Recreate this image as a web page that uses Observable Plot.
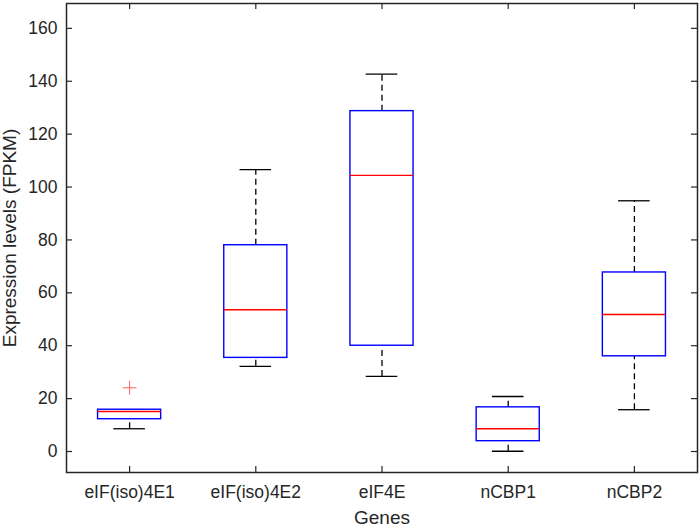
<!DOCTYPE html>
<html>
<head>
<meta charset="utf-8">
<script src="https://cdn.jsdelivr.net/npm/d3@7"></script>
<script src="https://cdn.jsdelivr.net/npm/@observablehq/plot@0.6"></script>
<style>
  html, body { margin: 0; padding: 0; background: #fff; }
  #chart svg { display: block; }
  #chart g[aria-label="y-axis tick label"] text,
  #chart g[aria-label="x-axis tick label"] text { font-size: 17.5px; }
  #chart g[aria-label="y-axis label"] text,
  #chart g[aria-label="x-axis label"] text { font-size: 19px; }
</style>
</head>
<body>
<div id="chart"></div>
<script>
const genes = ["eIF(iso)4E1", "eIF(iso)4E2", "eIF4E", "nCBP1", "nCBP2"];
const lowerWhisker = [8.6, 32.2, 28.4, 0.1, 15.8];
const q1 = [12.2, 35.4, 40.0, 3.9, 36.0];
const median = [15.1, 53.6, 104.4, 8.6, 51.8];
const q3 = [15.8, 78.0, 128.7, 16.7, 67.7];
const upperWhisker = [15.8, 106.6, 142.7, 20.8, 94.8];
const outlierGene = [1];
const outlierValue = [24.1];
const yTicks = [0, 20, 40, 60, 80, 100, 120, 140, 160];
const xTicks = [1, 2, 3, 4, 5];

const boxes = genes.map((g, i) => ({
  pos: i + 1, gene: g,
  lw: lowerWhisker[i], q1: q1[i], med: median[i], q3: q3[i], uw: upperWhisker[i]
}));
const outliers = outlierGene.map((p, i) => ({pos: p, value: outlierValue[i]}));

const W = 700, H = 528, mL = 66, mR = 3, mT = 3, mB = 56;
const innerW = W - mL - mR, innerH = H - mT - mB;
const ink = "#262626";

const chart = Plot.plot({
  width: W, height: H,
  marginLeft: mL, marginRight: mR, marginTop: mT, marginBottom: mB,
  style: {fontFamily: "Liberation Sans, Arial, Helvetica, sans-serif", color: ink, background: "#fff"},
  x: {type: "linear", domain: [0.5, 5.5], axis: null},
  y: {domain: [-7.94, 169.4], axis: null},
  marks: [
    // whiskers
    Plot.ruleX(boxes, {x: "pos", y1: "q3", y2: "uw", stroke: "black", strokeWidth: 1.3, strokeDasharray: "6,4"}),
    Plot.ruleX(boxes, {x: "pos", y1: "lw", y2: "q1", stroke: "black", strokeWidth: 1.3, strokeDasharray: "6,4"}),
    // caps
    Plot.ruleY(boxes, {y: "uw", x1: d => d.pos - 0.125, x2: d => d.pos + 0.125, stroke: "black", strokeWidth: 1.3}),
    Plot.ruleY(boxes, {y: "lw", x1: d => d.pos - 0.125, x2: d => d.pos + 0.125, stroke: "black", strokeWidth: 1.3}),
    // boxes
    Plot.rect(boxes, {x1: d => d.pos - 0.25, x2: d => d.pos + 0.25, y1: "q1", y2: "q3", fill: "white", stroke: "#0000ff", strokeWidth: 1.4}),
    // medians
    Plot.ruleY(boxes, {y: "med", x1: d => d.pos - 0.25, x2: d => d.pos + 0.25, stroke: "#ff0000", strokeWidth: 1.4}),
    // outliers
    Plot.dot(outliers, {x: "pos", y: "value", symbol: "plus", r: 4.5, stroke: "#ff6060", strokeWidth: 1}),
    // inward ticks
    Plot.ruleX(xTicks, {x: d => d, insetBottom: innerH - 6, stroke: ink, strokeWidth: 1.2}),
    Plot.ruleX(xTicks, {x: d => d, insetTop: innerH - 6, stroke: ink, strokeWidth: 1.2}),
    Plot.ruleY(yTicks, {y: d => d, insetRight: innerW - 6, stroke: ink, strokeWidth: 1.2}),
    Plot.ruleY(yTicks, {y: d => d, insetLeft: innerW - 6, stroke: ink, strokeWidth: 1.2}),
    // tick labels
    Plot.axisY({ticks: yTicks, tickSize: 0, tickPadding: 9, label: null, color: ink}),
    Plot.axisX({ticks: xTicks, tickFormat: d => genes[d - 1], tickSize: 0, tickPadding: 13, label: null, color: ink}),
    // axis titles
    Plot.axisY({ticks: [], label: "Expression levels (FPKM)", labelAnchor: "center", labelArrow: "none", labelOffset: 64, color: ink}),
    Plot.axisX({ticks: [], label: "Genes", labelAnchor: "center", labelArrow: "none", labelOffset: 51, color: ink}),
    Plot.frame({stroke: ink, strokeWidth: 1.5})
  ]
});
document.getElementById("chart").appendChild(chart);
</script>
</body>
</html>
